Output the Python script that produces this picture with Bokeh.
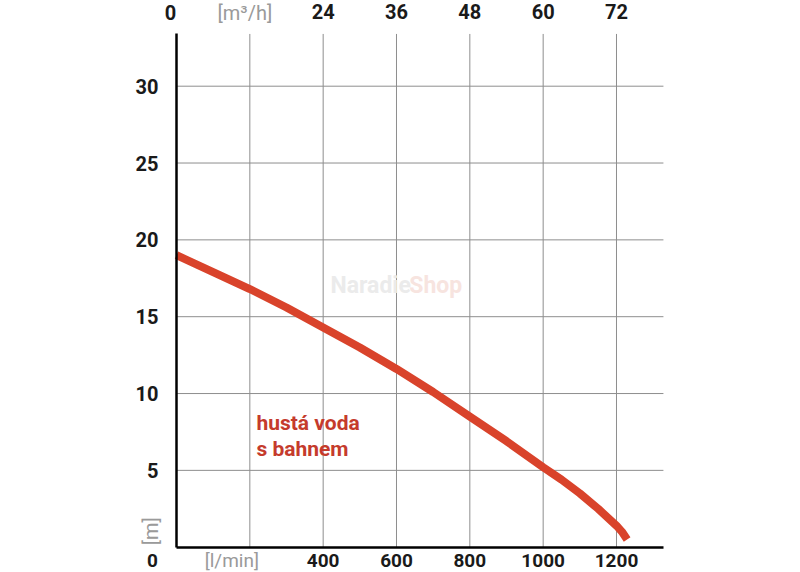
from bokeh.plotting import figure
from bokeh.models import LinearAxis, FixedTicker, Label, Range1d
from bokeh.embed import file_html
from bokeh.resources import INLINE

# flow in l/min and head in m
flow_lpm = [0, 100, 200, 300, 400, 500, 600, 700, 800, 900, 1000, 1050, 1100, 1150, 1200, 1215, 1229]
head_m = [19.0, 17.9, 16.8, 15.6, 14.3, 13.0, 11.6, 10.1, 8.5, 6.9, 5.2, 4.4, 3.5, 2.5, 1.4, 1.0, 0.5]

x_ticks = [400, 600, 800, 1000, 1200]
x_grid = [200, 400, 600, 800, 1000, 1200]
y_ticks = [5, 10, 15, 20, 25, 30]
top_labels = {400: "24", 600: "36", 800: "48", 1000: "60", 1200: "72"}
series_label = ["hustá voda", "s bahnem"]

# chart extents (l/min, m)
X_MAX = 1328
Y_MAX = 33.4

FONT = "Roboto"
RED = "#d9432b"
TXT_RED = "#c53b2c"
GRAY = "#9a9a9a"
INK = "#1a1a1a"

p = figure(width=784, height=572, output_backend="svg", toolbar_location=None,
           x_range=Range1d(-480, 1658.2), y_range=Range1d(-1.646, 35.576),
           x_axis_location=None, y_axis_location=None, min_border=0)
p.outline_line_color = None
p.background_fill_color = "white"
p.border_fill_color = "white"
p.xgrid.visible = False
p.ygrid.visible = False

# grid lines, limited to the chart area
p.segment(x0=x_grid, y0=[0] * len(x_grid), x1=x_grid, y1=[Y_MAX] * len(x_grid),
          line_color="#8e8e8e", line_width=1)
p.segment(x0=[0] * len(y_ticks), y0=y_ticks, x1=[X_MAX] * len(y_ticks), y1=y_ticks,
          line_color="#8e8e8e", line_width=1)

def style_axis(ax, standoff, size="20px"):
    ax.major_tick_line_color = None
    ax.minor_tick_line_color = None
    ax.major_label_text_font = FONT
    ax.major_label_text_font_size = size
    ax.major_label_text_font_style = "bold"
    ax.major_label_text_color = INK
    ax.major_label_standoff = standoff

bottom = LinearAxis(fixed_location=0, bounds=(0, X_MAX), ticker=FixedTicker(ticks=x_ticks))
style_axis(bottom, 1, "19px")
bottom.axis_line_color = "black"
bottom.axis_line_width = 2.5
p.add_layout(bottom, "below")

left = LinearAxis(fixed_location=0, bounds=(0, Y_MAX), ticker=FixedTicker(ticks=y_ticks))
style_axis(left, 12)
left.axis_line_color = "black"
left.axis_line_width = 2.5
p.add_layout(left, "left")

top = LinearAxis(fixed_location=Y_MAX, bounds=(0, X_MAX), ticker=FixedTicker(ticks=x_ticks),
                 major_label_overrides=top_labels)
style_axis(top, 9)
top.axis_line_color = None
p.add_layout(top, "above")

p.line(flow_lpm, head_m, line_color=RED, line_width=8, line_cap="butt", line_join="round")

def lab(**kw):
    base = dict(text_font=FONT, text_font_size="20px", text_font_style="bold",
                text_align="center", text_baseline="middle")
    base.update(kw)
    p.add_layout(Label(**base))

# axis-corner and unit labels
lab(x=0, y=Y_MAX, text="0", x_offset=-6, y_offset=21, text_color=INK)
lab(x=200, y=Y_MAX, text="[m³/h]", x_offset=-5, y_offset=21, text_color=GRAY,
    text_font_style="normal")
lab(x=0, y=0, text="0", x_offset=-24, y_offset=-13, text_color=INK, text_font_size="19px")
lab(x=200, y=0, text="[l/min]", x_offset=-18, y_offset=-13, text_color=GRAY,
    text_font_style="normal", text_font_size="19px")
lab(x=0, y=0, text="[m]", x_offset=-25, y_offset=16, text_color=GRAY,
    text_font_style="normal", angle=1.5708)

# series annotation
lab(x=218, y=8.1, text=series_label[0], text_align="left", text_baseline="alphabetic",
    text_color=TXT_RED, text_font_size="21px")
lab(x=218, y=6.4, text=series_label[1], text_align="left", text_baseline="alphabetic",
    text_color=TXT_RED, text_font_size="21px")

# faint watermark
lab(x=420, y=17.0, text="Naradie", text_align="left", text_color="#ebebeb",
    text_font_size="23px")
lab(x=635, y=17.0, text="Shop", text_align="left", text_color="#f7e4df",
    text_font_size="23px")

open("out.html", "w").write(file_html(p, INLINE))
